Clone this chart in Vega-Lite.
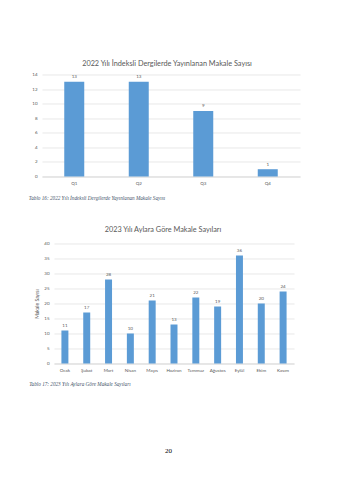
{
  "$schema": "https://vega.github.io/schema/vega-lite/v6.json",
  "background": "white",
  "padding": {"left": 27, "top": 59.5, "right": 5, "bottom": 5},
  "title": {"text": "20", "orient": "bottom", "anchor": "middle", "font": "Liberation Serif", "fontSize": 7, "fontWeight": "normal", "color": "#000000", "offset": 60, "dx": 5},
  "spacing": 25,
  "vconcat": [
    {
      "spacing": 0,
      "hconcat": [
        {"width": 1, "height": 1, "data": {"values": []}, "mark": "point"},
        {
          "width": 258,
          "height": 102,
          "title": {"text": "2022 Yılı İndeksli Dergilerde Yayınlanan Makale Sayısı", "font": "Lato", "fontSize": 7.3, "fontWeight": "normal", "color": "#595959", "offset": 4.5, "dx": -4},
          "data": {"values": [
            {"kategori": "Q1", "sayi": 13},
            {"kategori": "Q2", "sayi": 13},
            {"kategori": "Q3", "sayi": 9},
            {"kategori": "Q4", "sayi": 1}
          ]},
          "encoding": {
            "x": {"field": "kategori", "type": "nominal", "sort": null,
              "scale": {"paddingInner": 0.69, "paddingOuter": 0.345},
              "axis": {"title": "Tablo 16: 2022 Yılı İndeksli Dergilerde Yayınlanan Makale Sayısı", "titleX": -13.7, "titleY": 22.5, "titleAlign": "left", "titleAnchor": "start", "titleBaseline": "alphabetic", "titleFont": "Liberation Serif", "titleFontStyle": "italic", "titleFontWeight": "normal", "titleFontSize": 5.2, "titleColor": "#44546A", "labelAngle": 0, "ticks": false, "labelPadding": 4, "domainColor": "#D9D9D9", "labelFont": "Lato", "labelFontSize": 4.5, "labelColor": "#595959"}},
            "y": {"field": "sayi", "type": "quantitative",
              "scale": {"domain": [0, 14]},
              "axis": {"title": null, "values": [0, 2, 4, 6, 8, 10, 12, 14], "domain": false, "ticks": false, "labelPadding": 5, "labelFont": "Lato", "labelFontSize": 4.5, "labelColor": "#595959", "gridColor": "#D9D9D9", "gridWidth": 0.6}}
          },
          "layer": [
            {"mark": {"type": "bar", "color": "#5B9BD5"}},
            {"mark": {"type": "text", "baseline": "bottom", "dy": -2.5, "font": "Lato", "fontSize": 4.5, "color": "#595959"},
              "encoding": {"text": {"field": "sayi", "type": "quantitative"}}}
          ]
        }
      ]
    },
    {
      "spacing": 0,
      "hconcat": [
        {"width": 1, "height": 1, "data": {"values": []}, "mark": "point"},
        {
          "width": 240,
          "height": 120,
          "title": {"text": "2023 Yılı Aylara Göre Makale Sayıları", "font": "Lato", "fontSize": 7.3, "fontWeight": "normal", "color": "#595959", "offset": 7, "dx": -11},
          "data": {"values": [
            {"ay": "Ocak", "sayi": 11},
            {"ay": "Şubat", "sayi": 17},
            {"ay": "Mart", "sayi": 28},
            {"ay": "Nisan", "sayi": 10},
            {"ay": "Mayıs", "sayi": 21},
            {"ay": "Haziran", "sayi": 13},
            {"ay": "Temmuz", "sayi": 22},
            {"ay": "Ağustos", "sayi": 19},
            {"ay": "Eylül", "sayi": 36},
            {"ay": "Ekim", "sayi": 20},
            {"ay": "Kasım", "sayi": 24}
          ]},
          "encoding": {
            "x": {"field": "ay", "type": "nominal", "sort": null,
              "scale": {"paddingInner": 0.68, "paddingOuter": 0.34},
              "axis": {"title": "Tablo 17: 2023 Yılı Aylara Göre Makale Sayıları", "titleX": -25.3, "titleY": 22, "titleAlign": "left", "titleAnchor": "start", "titleBaseline": "alphabetic", "titleFont": "Liberation Serif", "titleFontStyle": "italic", "titleFontWeight": "normal", "titleFontSize": 5.2, "titleColor": "#44546A", "labelAngle": 0, "ticks": false, "labelPadding": 4, "domainColor": "#D9D9D9", "labelFont": "Lato", "labelFontSize": 4.5, "labelColor": "#595959"}},
            "y": {"field": "sayi", "type": "quantitative",
              "scale": {"domain": [0, 40]},
              "axis": {"title": "Makale Sayısı", "titleFont": "Lato", "titleFontSize": 5, "titleFontWeight": "normal", "titleColor": "#595959", "titlePadding": 4, "values": [0, 5, 10, 15, 20, 25, 30, 35, 40], "domain": false, "ticks": false, "labelPadding": 5, "labelFont": "Lato", "labelFontSize": 4.5, "labelColor": "#595959", "gridColor": "#D9D9D9", "gridWidth": 0.6}}
          },
          "layer": [
            {"mark": {"type": "bar", "color": "#5B9BD5"}},
            {"mark": {"type": "text", "baseline": "bottom", "dy": -2.5, "font": "Lato", "fontSize": 4.5, "color": "#595959"},
              "encoding": {"text": {"field": "sayi", "type": "quantitative"}}}
          ]
        }
      ]
    }
  ],
  "config": {
    "view": {"stroke": null}
  }
}
